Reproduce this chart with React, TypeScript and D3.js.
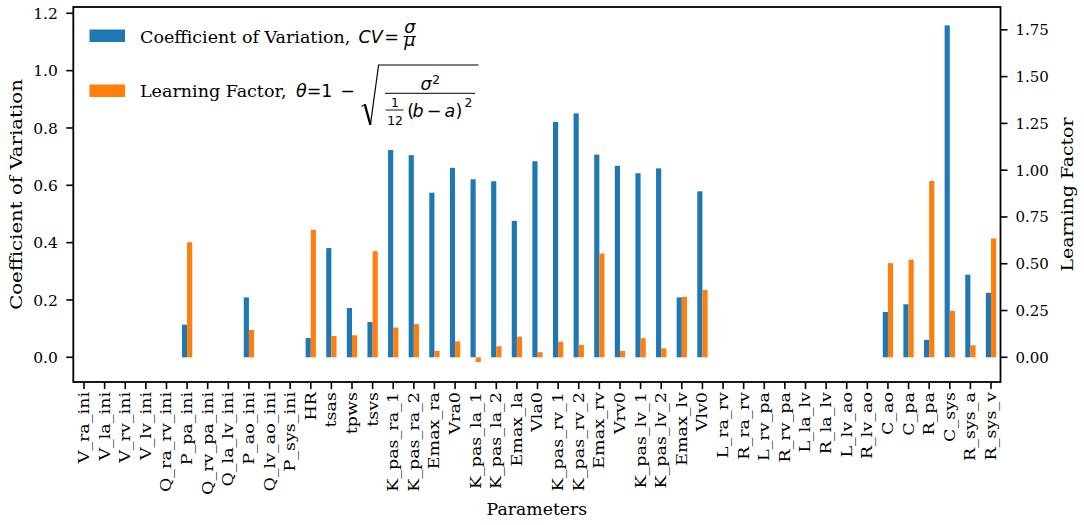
import React, { useEffect, useRef } from 'react';
import * as d3 from 'd3';

// Parameter names along the x axis
const categories = [
  'V_ra_ini', 'V_la_ini', 'V_rv_ini', 'V_lv_ini', 'Q_ra_rv_ini', 'P_pa_ini',
  'Q_rv_pa_ini', 'Q_la_lv_ini', 'P_ao_ini', 'Q_lv_ao_ini', 'P_sys_ini', 'HR',
  'tsas', 'tpws', 'tsvs', 'K_pas_ra_1', 'K_pas_ra_2', 'Emax_ra', 'Vra0',
  'K_pas_la_1', 'K_pas_la_2', 'Emax_la', 'Vla0', 'K_pas_rv_1', 'K_pas_rv_2',
  'Emax_rv', 'Vrv0', 'K_pas_lv_1', 'K_pas_lv_2', 'Emax_lv', 'Vlv0', 'L_ra_rv',
  'R_ra_rv', 'L_rv_pa', 'R_rv_pa', 'L_la_lv', 'R_la_lv', 'L_lv_ao', 'R_lv_ao',
  'C_ao', 'C_pa', 'R_pa', 'C_sys', 'R_sys_a', 'R_sys_v'
];

// Coefficient of variation (left axis)
const cvValues: (number | null)[] = [
  null, null, null, null, null, 0.114,
  null, null, 0.209, null, null, 0.067,
  0.381, 0.172, 0.123, 0.723, 0.705, 0.574, 0.661,
  0.621, 0.614, 0.476, 0.684, 0.821, 0.851,
  0.707, 0.668, 0.642, 0.659, 0.209, 0.579, null,
  null, null, null, null, null, null, null,
  0.158, 0.185, 0.061, 1.158, 0.288, 0.225
];

// Learning factor (right axis)
const lfValues: (number | null)[] = [
  null, null, null, null, null, 0.615,
  null, null, 0.146, null, null, 0.681,
  0.114, 0.118, 0.567, 0.159, 0.177, 0.034, 0.085,
  -0.025, 0.059, 0.110, 0.027, 0.083, 0.066,
  0.554, 0.034, 0.102, 0.048, 0.323, 0.360, null,
  null, null, null, null, null, null, null,
  0.503, 0.522, 0.942, 0.248, 0.064, 0.635
];

const cvTicks = [0, 0.2, 0.4, 0.6, 0.8, 1.0, 1.2];
const lfTicks = [0, 0.25, 0.5, 0.75, 1.0, 1.25, 1.5, 1.75];

const W = 1084;
const H = 525;
const plot = { left: 73.3, right: 1000.5, top: 7, bottom: 382 };
const BLUE = '#1f77b4';
const ORANGE = '#ff7f0e';
const SERIF = '"DejaVu Serif", serif';
const MATH = '"DejaVu Sans", sans-serif';

const App: React.FC = () => {
  const svgRef = useRef<SVGSVGElement>(null);

  useEffect(() => {
    if (!svgRef.current) return;
    const svg = d3.select(svgRef.current);
    svg.selectAll('*').remove();

    const x = d3.scaleLinear()
      .domain([-0.52, categories.length - 0.54])
      .range([plot.left, plot.right]);
    const yL = d3.scaleLinear().domain([-0.0862, 1.222]).range([plot.bottom, plot.top]);
    const yR = d3.scaleLinear().domain([-0.132, 1.872]).range([plot.bottom, plot.top]);
    const bw = x(0.25) - x(0);

    // bars
    const bars = svg.append('g');
    categories.forEach((c, i) => {
      const cv = cvValues[i];
      if (cv !== null) {
        bars.append('rect')
          .attr('x', x(i) - bw)
          .attr('y', Math.min(yL(cv), yL(0)))
          .attr('width', bw)
          .attr('height', Math.abs(yL(cv) - yL(0)))
          .attr('fill', BLUE);
      }
      const lf = lfValues[i];
      if (lf !== null) {
        bars.append('rect')
          .attr('x', x(i))
          .attr('y', Math.min(yR(lf), yR(0)))
          .attr('width', bw)
          .attr('height', Math.abs(yR(lf) - yR(0)))
          .attr('fill', ORANGE);
      }
    });

    // frame
    svg.append('rect')
      .attr('x', plot.left)
      .attr('y', plot.top)
      .attr('width', plot.right - plot.left)
      .attr('height', plot.bottom - plot.top)
      .attr('fill', 'none')
      .attr('stroke', '#000')
      .attr('stroke-width', 1.8);

    // left axis
    const left = svg.append('g');
    cvTicks.forEach(t => {
      left.append('line')
        .attr('x1', plot.left - 7).attr('x2', plot.left)
        .attr('y1', yL(t)).attr('y2', yL(t))
        .attr('stroke', '#000').attr('stroke-width', 1.6);
      left.append('text')
        .attr('x', plot.left - 15.5)
        .attr('y', yL(t))
        .attr('dy', '0.36em')
        .attr('text-anchor', 'end')
        .style('font-family', SERIF)
        .style('font-size', '15.5px')
        .text(d3.format('.1f')(t));
    });

    // right axis
    const right = svg.append('g');
    lfTicks.forEach(t => {
      right.append('line')
        .attr('x1', plot.right).attr('x2', plot.right + 7)
        .attr('y1', yR(t)).attr('y2', yR(t))
        .attr('stroke', '#000').attr('stroke-width', 1.6);
      right.append('text')
        .attr('x', plot.right + 15)
        .attr('y', yR(t))
        .attr('dy', '0.36em')
        .attr('text-anchor', 'start')
        .style('font-family', SERIF)
        .style('font-size', '15px')
        .text(d3.format('.2f')(t));
    });

    // x axis, labels stretched along their length like the reference
    const bottom = svg.append('g');
    categories.forEach((c, i) => {
      bottom.append('line')
        .attr('x1', x(i)).attr('x2', x(i))
        .attr('y1', plot.bottom).attr('y2', plot.bottom + 7)
        .attr('stroke', '#000').attr('stroke-width', 1.6);
      bottom.append('text')
        .attr('transform', `translate(${x(i)}, ${plot.bottom + 10}) rotate(-90) scale(1.13, 1)`)
        .attr('dy', '0.32em')
        .attr('text-anchor', 'end')
        .style('font-family', SERIF)
        .style('font-size', '15.5px')
        .text(c);
    });

    // axis titles
    const cy = (plot.top + plot.bottom) / 2;
    svg.append('text')
      .attr('transform', `translate(22, ${cy}) rotate(-90) scale(1.16, 1)`)
      .attr('text-anchor', 'middle')
      .style('font-family', SERIF)
      .style('font-size', '17px')
      .text('Coefficient of Variation');
    svg.append('text')
      .attr('transform', `translate(1073, ${cy}) rotate(-90) scale(1.11, 1)`)
      .attr('text-anchor', 'middle')
      .style('font-family', SERIF)
      .style('font-size', '17px')
      .text('Learning Factor');
    svg.append('text')
      .attr('x', (plot.left + plot.right) / 2)
      .attr('y', 515)
      .attr('text-anchor', 'middle')
      .style('font-family', SERIF)
      .style('font-size', '17.3px')
      .text('Parameters');

    // legend
    const lg = svg.append('g');
    const fs = 17.5;
    lg.append('rect').attr('x', 89.5).attr('y', 29.5).attr('width', 35.5).attr('height', 12.5).attr('fill', BLUE);
    lg.append('rect').attr('x', 89.5).attr('y', 84.5).attr('width', 35.5).attr('height', 12.5).attr('fill', ORANGE);

    const txt = (xx: number, yy: number, s: string, opts: { italic?: boolean; math?: boolean; size?: number; anchor?: string } = {}) =>
      lg.append('text')
        .attr('x', xx)
        .attr('y', yy)
        .attr('text-anchor', opts.anchor || 'start')
        .style('font-family', opts.math ? MATH : SERIF)
        .style('font-style', opts.italic ? 'italic' : 'normal')
        .style('font-size', `${opts.size || fs}px`)
        .text(s);

    // a stacked fraction drawn as one text with two lines
    const frac = (cx: number, yTop: number, top: string, yBot: number, bot: string, size: number) => {
      const t = lg.append('text')
        .attr('text-anchor', 'middle')
        .style('font-family', MATH)
        .style('font-size', `${size}px`);
      t.append('tspan').attr('x', cx).attr('y', yTop).text(top);
      t.append('tspan').attr('x', cx).attr('y', yBot).text(bot);
      return t;
    };
    const rule = (x1: number, x2: number, yy: number, w = 1) =>
      lg.append('line').attr('x1', x1).attr('x2', x2).attr('y1', yy).attr('y2', yy)
        .attr('stroke', '#000').attr('stroke-width', w);

    // first entry: CV = sigma / mu
    txt(140, 43, 'Coefficient of Variation,');
    txt(358.5, 43, 'CV', { italic: true, math: true });
    txt(391.5, 43, '=', { math: true, anchor: 'middle' });
    frac(409.8, 33.2, 'σ', 46.2, 'μ', fs).style('font-style', 'italic');
    rule(403.5, 416, 36.6);

    // second entry: theta = 1 - sqrt(sigma^2 / (1/12 (b-a)^2))
    txt(140, 97, 'Learning Factor,');
    txt(296, 97, 'θ', { italic: true, math: true });
    txt(314, 97, '=', { math: true, anchor: 'middle' });
    txt(326.7, 97, '1', { math: true, anchor: 'middle' });
    txt(347.5, 97, '−', { math: true, anchor: 'middle' });
    lg.append('path')
      .attr('d', 'M361.5,106.6 L364.8,104.4')
      .attr('stroke', '#000').attr('stroke-width', 1.1).attr('fill', 'none');
    lg.append('path')
      .attr('d', 'M364.8,104.4 L370.4,124.8')
      .attr('stroke', '#000').attr('stroke-width', 2.3).attr('fill', 'none');
    lg.append('path')
      .attr('d', 'M370.4,125 L378.6,65 L478.5,65')
      .attr('stroke', '#000').attr('stroke-width', 1.2).attr('fill', 'none')
      .attr('stroke-linejoin', 'miter');
    rule(385, 475, 93.3);
    txt(426, 90, 'σ', { italic: true, math: true, anchor: 'middle' });
    txt(432.3, 83.5, '2', { math: true, size: 12.3 });
    // 1/12
    frac(395, 106.7, '1', 125, '12', 12.3);
    rule(385.5, 403.5, 110, 0.9);
    // (b - a)^2
    txt(407.3, 116.7, '(', { math: true });
    txt(412.5, 116.7, 'b', { italic: true, math: true });
    txt(434, 116.7, '−', { math: true, anchor: 'middle' });
    txt(444.5, 116.7, 'a', { italic: true, math: true });
    txt(455.5, 116.7, ')', { math: true });
    txt(464.5, 107.3, '2', { math: true, size: 12.3 });
  }, []);

  return (
    <svg
      ref={svgRef}
      width={W}
      height={H}
      style={{ position: 'absolute', left: 0, top: 0, background: '#fff' }}
    />
  );
};

export default App;
